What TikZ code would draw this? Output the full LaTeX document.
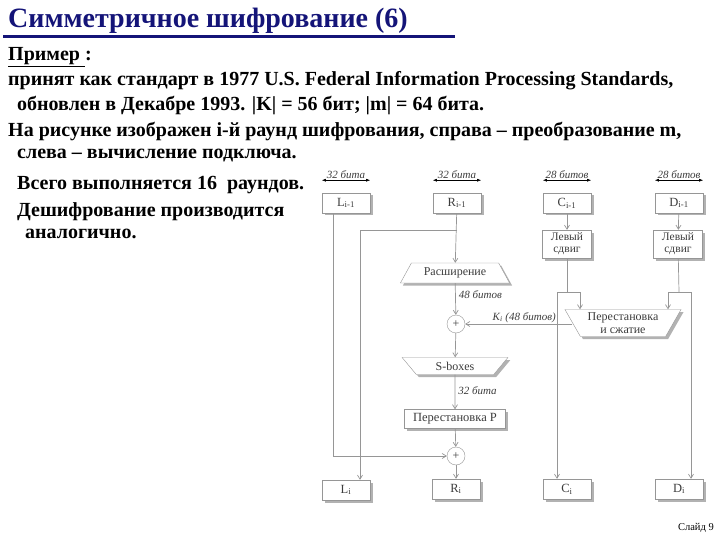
\documentclass[tikz,border=0pt]{standalone}
\usepackage{fontspec}
\setmainfont{Liberation Serif}
\usetikzlibrary{shapes.geometric,arrows.meta,shadows}

\definecolor{slidenavy}{RGB}{20,20,120}
\definecolor{wiregray}{RGB}{150,150,150}
\definecolor{labelgray}{RGB}{60,60,60}

\tikzset{
  wire/.style={draw=wiregray, line width=0.7pt},
  flow/.style={wire, -{Straight Barb[length=4pt,width=5pt]}},
  span/.style={draw=black, line width=0.6pt, {Latex[length=4pt,width=3pt]}-{Latex[length=4pt,width=3pt]}},
  boxshadow/.style={drop shadow={shadow xshift=2.5pt, shadow yshift=-2.5pt, fill=black!30, opacity=1}},
  regbox/.style={draw=wiregray, fill=white, minimum width=48pt, minimum height=20pt,
    inner sep=0pt, text=labelgray, font=\fontsize{12.5}{12.5}\selectfont, boxshadow},
  shiftbox/.style={regbox, minimum width=49pt, minimum height=28pt, align=center,
    font=\fontsize{11.5}{12}\selectfont},
  trap/.style={shape=trapezium, trapezium stretches=true, draw=wiregray, fill=white,
    inner sep=0pt, text=labelgray, font=\fontsize{12}{12}\selectfont, boxshadow},
  xorop/.style={circle, draw=wiregray, fill=white, minimum size=18pt, inner sep=0pt,
    text=labelgray, font=\fontsize{12}{12}\selectfont},
  bits/.style={text=labelgray, font=\fontsize{11}{11}\selectfont\itshape, inner sep=1pt},
  line/.style={anchor=base west, inner sep=0pt, font=\fontsize{20}{20}\selectfont\bfseries}
}

\begin{document}
\begin{tikzpicture}[x=1pt, y=-1pt]
\useasboundingbox (0,0) rectangle (720,540);

% title
\node[anchor=base west, inner sep=0pt, text=slidenavy, font=\fontsize{28}{28}\selectfont\bfseries]
  (title) at (8,28) {Симметричное шифрование (6)};
\fill[slidenavy] (3,35.5) rectangle (455,38.5);

% text of the slide
\node[line] (ex) at (8,61) {\underline{Пример\ }:};
\node[line] (t1) at (8,86) {принят как стандарт в 1977 U.S. Federal Information Processing Standards,};
\node[line] (t2) at (17,111) {обновлен в Декабре 1993. |K| = 56 бит; |m| = 64 бита.};
\node[line] (t3) at (8,137) {На рисунке изображен i-й раунд шифрования, справа – преобразование m,};
\node[line] (t4) at (17,159) {слева – вычисление подключа.};
\node[line] (t5) at (17,190) {Всего выполняется 16\ \ раундов.};
\node[line] (t6) at (17,216) {Дешифрование производится};
\node[line] (t7) at (25,238) {аналогично.};

% registers
\node[regbox] (Lprev) at (346,203) {L\textsubscript{i-1}};
\node[regbox] (Rprev) at (457,203) {R\textsubscript{i-1}};
\node[regbox] (Cprev) at (567,203) {C\textsubscript{i-1}};
\node[regbox] (Dprev) at (679,203) {D\textsubscript{i-1}};

\node[regbox] (Li) at (346,490) {L\textsubscript{i}};
\node[regbox] (Ri) at (456,489) {R\textsubscript{i}};
\node[regbox] (Ci) at (567,489) {C\textsubscript{i}};
\node[regbox] (Di) at (679,489) {D\textsubscript{i}};

% widths
\foreach \reg/\txt in {Lprev/32 бита, Rprev/32 бита, Cprev/28 битов, Dprev/28 битов}{
  \node[bits] (w\reg) at ([yshift=28pt]\reg.center) {\txt};
  \draw[span] (w\reg.south -| \reg.west) -- (w\reg.south -| \reg.east);
}

% key schedule
\node[shiftbox] (Cshift) at (567,244) {Левый\\сдвиг};
\node[shiftbox] (Dshift) at (678,244) {Левый\\сдвиг};
\node[trap, shape border rotate=180, trapezium left angle=58, trapezium right angle=58,
  minimum width=117pt, minimum height=27pt, align=center,
  font=\fontsize{12}{12.5}\selectfont] (pcomp) at (623,323) {Перестановка\\и сжатие};

% round function
\node[trap, trapezium left angle=53, trapezium right angle=53,
  minimum width=110pt, minimum height=20pt] (expand) at (455,273) {Расширение};
\node[xorop] (xor1) at (456,324) {+};
\node[trap, shape border rotate=180, trapezium left angle=50, trapezium right angle=50,
  minimum width=106pt, minimum height=17pt] (sbox) at (455,366) {S-boxes};
\node[regbox, minimum width=101pt, minimum height=19pt] (permP) at (455,419) {Перестановка P};
\node[xorop] (xor2) at (456,456) {+};

\coordinate (rsplit) at (457,230);
\coordinate (csplit) at (567,292);
\coordinate (dsplit) at (679,292);

% connectors
\draw[flow] (Rprev) -- (expand);
\draw[flow] (rsplit) -| ([xshift=14pt]Li.north);
\draw[flow] ([xshift=-13pt]Lprev.south) |- (xor2);
\draw[flow] (expand) -- node[bits, anchor=west, xshift=2pt, pos=0.35] (b48) {48 битов} (xor1);
\draw[flow] (xor1) -- (sbox);
\draw[flow] (sbox) -- node[bits, anchor=west, xshift=2pt, pos=0.45] (b32) {32 бита} (permP);
\draw[flow] (permP) -- (xor2);
\draw[flow] (xor2) -- (Ri);

\draw[flow] (Cprev) -- (Cshift);
\draw[flow] (Dprev) -- (Dshift);
\draw[wire] (Cshift) -- (csplit);
\draw[wire] (Dshift) -- (dsplit);
\draw[flow] (csplit) -| ([xshift=-43pt]pcomp.north);
\draw[flow] (csplit) -| ([xshift=-10pt]Ci.north);
\draw[flow] (dsplit) -| ([xshift=45pt]pcomp.north);
\draw[flow] (dsplit) -| ([xshift=12pt]Di.north);
\draw[flow] (pcomp.west |- xor1) -- node[bits, above, pos=0.45] (kkey) {K\textsubscript{i} (48 битов)} (xor1);

\node[anchor=east, inner sep=0pt, font=\fontsize{10.5}{10.5}\selectfont] (slide) at (714,528) {Слайд 9};
\end{tikzpicture}
\end{document}
